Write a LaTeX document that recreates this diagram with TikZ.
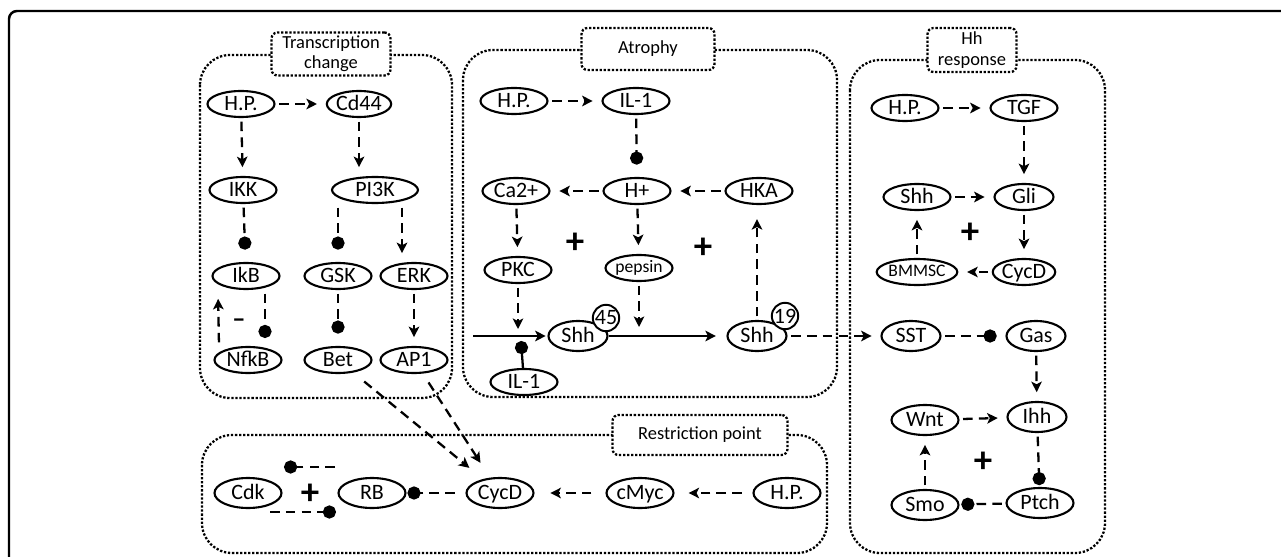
\documentclass[tikz,border=0pt]{standalone}
\usepackage{fontspec}
\setmainfont{Carlito}
\usetikzlibrary{shapes,arrows.meta,positioning,calc}

\begin{document}
\begin{tikzpicture}[x=0.02cm, y=-0.02cm]
  \tikzstyle{mol}=[ellipse, draw, line width=1.2pt, fill=white, inner sep=0pt, minimum width=1.34cm, minimum height=0.52cm, text height=8.3pt, text depth=0.5pt, font=\fontsize{12.5}{13}\selectfont]
  \tikzstyle{narrow}=[minimum width=1.18cm]
  \tikzstyle{wide}=[minimum width=1.72cm]
  \tikzstyle{tall}=[minimum height=0.6cm]
  \tikzstyle{small}=[font=\fontsize{10}{11}\selectfont, text height=6.3pt, text depth=1pt]
  \tikzstyle{group}=[draw, densely dotted, line width=1.3pt, rounded corners=0.6cm]
  \tikzstyle{grouptitle}=[draw, densely dotted, line width=1.3pt, rounded corners=0.12cm, fill=white, align=center, inner sep=0pt, font=\fontsize{10.5}{11.5}\selectfont]
  \tikzstyle{act}=[-{Stealth[length=6pt,width=6pt,inset=1.5pt]}, line width=1.3pt, dash pattern=on 5.5pt off 3.5pt, shorten <=2pt, shorten >=5pt]
  \tikzstyle{inh}=[-{Circle[length=7.5pt]}, line width=1.3pt, dash pattern=on 5.5pt off 3.5pt, shorten <=2pt, shorten >=7pt]
  \tikzstyle{flow}=[-{Stealth[length=6pt,width=6pt,inset=1.5pt]}, line width=1.3pt]
  \tikzstyle{sign}=[font=\fontsize{21}{21}\selectfont\bfseries, inner sep=0pt]
  \tikzstyle{badge}=[circle, draw, line width=1.1pt, fill=white, inner sep=0pt, minimum size=0.48cm, font=\fontsize{12.5}{13}\selectfont]

  \useasboundingbox (0,0) rectangle (1281,557);

  % Frame
  \draw[line width=1.4pt, rounded corners=0.16cm] (9,557) -- (9,11) -- (1281,11);

  % Groups
  \draw[group] (200,55) rectangle (452,398);
  \draw[group] (463,50) rectangle (837,397);
  \draw[group] (850,60) rectangle (1105,553);
  \draw[group] (202,435) rectangle (827,553);

  \node[grouptitle, minimum width=2.38cm, minimum height=0.86cm] (ttlT) at (331,54) {Transcription\\change};
  \node[grouptitle, minimum width=2.66cm, minimum height=0.84cm] (ttlA) at (648,49) {Atrophy};
  \node[grouptitle, minimum width=1.78cm, minimum height=0.88cm] (ttlH) at (972,50) {Hh\\response};
  \node[grouptitle, minimum width=3.5cm, minimum height=0.8cm] (ttlR) at (700,435) {Restriction point};

  % Transcription change
  \node[mol] (tHP) at (241,104) {H.P.};
  \node[mol, narrow] (tCd) at (359,104) {Cd44};
  \node[mol] (tIKK) at (243,190) {IKK};
  \node[mol, wide] (tPI) at (375,190) {PI3K};
  \node[mol] (tIkB) at (246,276) {IkB};
  \node[mol] (tGSK) at (338,276) {GSK};
  \node[mol] (tERK) at (414,276) {ERK};
  \node[mol] (tNfkB) at (248,360) {NfkB};
  \node[mol] (tBet) at (338,360) {Bet};
  \node[mol] (tAP) at (414,360) {AP1};
  \node[sign, font=\fontsize{15}{15}\selectfont\bfseries] (tMinus) at (239,323) {--};

  \draw[act] (tHP) -- (tCd);
  \draw[act] (tHP) -- (tIKK);
  \draw[act] (tCd.south) -- (tCd.south |- tPI.north);
  \draw[inh] (tIKK) -- (tIkB);
  \draw[inh] (tGSK |- tPI.south) -- (tGSK);
  \draw[act] ([xshift=-0.24cm]tERK.north |- tPI.south) -- ([xshift=-0.24cm]tERK.north);
  \draw[act] ($(tNfkB.north)+(-29,0)$) -- ($(tIkB.south)+(-28,0)$);
  \draw[inh, shorten >=4.5pt] ($(tIkB.south)+(19,0)$) -- ($(tNfkB.north)+(17,0)$);
  \draw[inh] (tGSK) -- (tBet);
  \draw[act] (tERK) -- (tAP);

  % Atrophy
  \node[mol] (aHP) at (514,101) {H.P.};
  \node[mol] (aIL) at (636,101) {IL-1};
  \node[mol] (aCa) at (516,191) {Ca2+};
  \node[mol] (aH) at (637,191) {H+};
  \node[mol] (aHKA) at (759,191) {HKA};
  \node[mol] (aPKC) at (518,270) {PKC};
  \node[mol, small] (aPep) at (639,268) {pepsin};
  \node[mol, narrow, tall] (aShhA) at (578,336) {Shh};
  \node[badge] (aBdgA) at (606,318) {45};
  \node[mol, narrow, tall] (aShhB) at (757,336) {Shh};
  \node[badge] (aBdgB) at (785,316) {19};
  \node[mol] (aIL2) at (524,382) {IL-1};
  \node[sign] (aPlusA) at (575,243) {+};
  \node[sign] (aPlusB) at (703,248) {+};
  \coordinate (aIn) at (473,336);
  \coordinate (aJa) at (518,329);
  \coordinate (aJb) at (639,327);
  \coordinate (aJc) at (521,341);

  \draw[act] (aHP) -- (aIL);
  \draw[inh] (aIL) -- (aH);
  \draw[act] (aH) -- (aCa);
  \draw[act] (aHKA) -- (aH);
  \draw[act] (aCa) -- (aPKC);
  \draw[act] (aH) -- (aPep);
  \draw[act, shorten >=0pt] (aPKC) -- (aJa);
  \draw[act, shorten >=0pt] (aPep) -- (aJb);
  \draw[flow, shorten >=1pt] (aIn) -- (aShhA);
  \draw[flow, shorten >=6pt] (aShhA) -- (aShhB);
  \draw[-{Circle[length=7.5pt]}, line width=1.3pt] (aIL2) -- (aJc);
  \draw[act, shorten >=8pt] (aShhB.north) -- (aShhB.north |- aHKA.south);

  % Hh response
  \node[mol] (hHP) at (905,108) {H.P.};
  \node[mol] (hTGF) at (1024,108) {TGF};
  \node[mol] (hShh) at (917,197) {Shh};
  \node[mol, narrow] (hGli) at (1024,197) {Gli};
  \node[mol, small] (hBM) at (917,272) {BMMSC};
  \node[mol, narrow] (hCyc) at (1024,272) {CycD};
  \node[sign] (hPlusA) at (970,233) {+};
  \node[mol, narrow, tall] (hSST) at (911,336) {SST};
  \node[mol, narrow, tall] (hGas) at (1036,336) {Gas};
  \node[mol, tall] (hWnt) at (925,420) {Wnt};
  \node[mol, narrow, tall] (hIhh) at (1037,417) {Ihh};
  \node[mol, tall] (hSmo) at (925,505) {Smo};
  \node[mol, tall] (hPtch) at (1040,503) {Ptch};
  \node[sign] (hPlusB) at (983,462) {+};

  \draw[act] (aShhB) -- (hSST);
  \draw[act] (hHP) -- (hTGF);
  \draw[act] (hTGF) -- (hGli);
  \draw[act] (hShh) -- (hGli);
  \draw[act] (hGli) -- (hCyc);
  \draw[act] (hCyc) -- (hBM);
  \draw[act] (hBM) -- (hShh);
  \draw[inh, shorten >=5pt] (hSST) -- (hGas);
  \draw[act] (hGas) -- (hIhh);
  \draw[act] (hWnt) -- (hIhh);
  \draw[inh, shorten >=1pt] (hIhh) -- (hPtch);
  \draw[inh, shorten >=1pt] (hPtch) -- (hSmo);
  \draw[act] (hSmo) -- (hWnt);

  % Restriction point
  \node[mol, tall] (rCdk) at (248,493) {Cdk};
  \node[mol, tall] (rRB) at (372,493) {RB};
  \node[mol, tall] (rCyc) at (500,493) {CycD};
  \node[mol, tall] (rMyc) at (640,493) {cMyc};
  \node[mol, tall] (rHP) at (787,493) {H.P.};
  \node[sign] (rPlus) at (310,494) {+};
  \coordinate (rUa) at (335,467);
  \coordinate (rUb) at (284,467);
  \coordinate (rLa) at (270,512);
  \coordinate (rLb) at (336,512);

  \draw[act, shorten <=6pt, shorten >=8pt] (rHP) -- (rMyc);
  \draw[act, shorten <=8pt, shorten >=9pt] (rMyc) -- (rCyc);
  \draw[inh, shorten <=6pt, shorten >=0.5pt] (rCyc) -- (rRB);
  \draw[inh, shorten <=0pt, shorten >=0pt] (rUa) -- (rUb);
  \draw[inh, shorten <=0pt, shorten >=0pt] (rLa) -- (rLb);
  \draw[act, shorten <=8pt, shorten >=10pt] (tBet) -- (rCyc);
  \draw[act, shorten <=6pt, shorten >=10pt] (tAP) -- (rCyc);
\end{tikzpicture}
\end{document}
